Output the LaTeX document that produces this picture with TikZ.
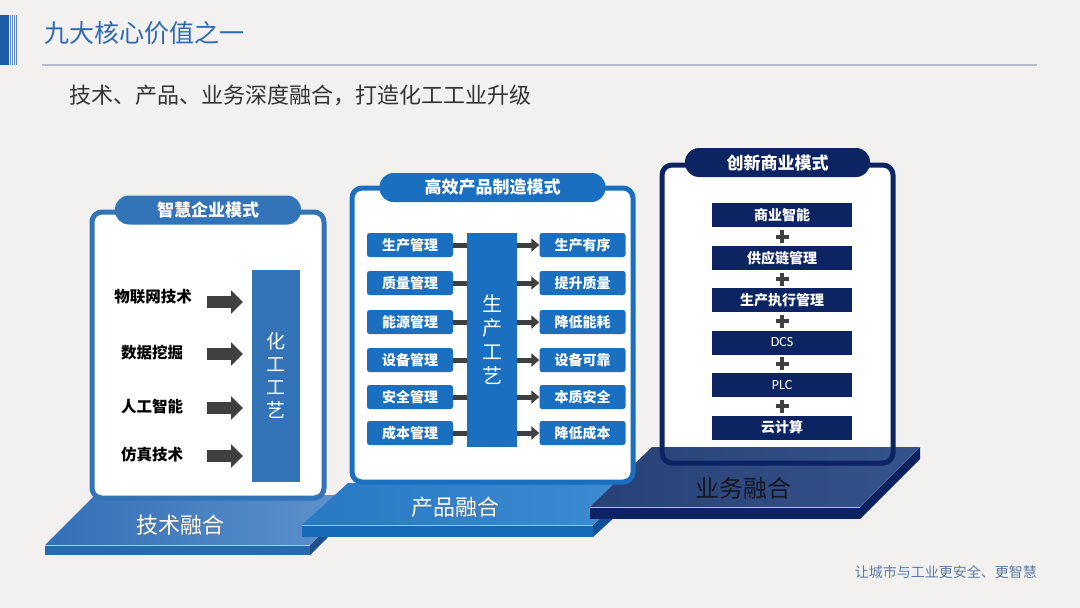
\documentclass[tikz,border=0pt]{standalone}
\usepackage{fontspec}
\setmainfont{Noto Sans CJK SC}
\newfontfamily\lat{Carlito}
\usetikzlibrary{arrows.meta,calc}
\definecolor{bgc}{HTML}{F2F1EF}
\definecolor{titleblue}{HTML}{2E6AB4}
\definecolor{hbar}{HTML}{1E5CAA}
\definecolor{hstripe}{HTML}{5E88C2}
\definecolor{hline}{HTML}{B4BCCB}
\definecolor{pa}{HTML}{3373B7}
\definecolor{pb}{HTML}{1A6FC0}
\definecolor{navy}{HTML}{0D2462}
\definecolor{darkarrow}{HTML}{404040}
\definecolor{footc}{HTML}{5A7BA8}
\definecolor{p1side}{RGB}{30,80,140}
\definecolor{p1l}{RGB}{52,112,181}
\definecolor{p1r}{RGB}{95,147,206}
\definecolor{p1f}{RGB}{42,105,174}
\definecolor{p2side}{RGB}{16,80,150}
\definecolor{p2l}{RGB}{40,120,196}
\definecolor{p2r}{RGB}{62,140,210}
\definecolor{p2f}{RGB}{22,106,184}
\definecolor{p3side}{RGB}{10,32,95}
\definecolor{p3l}{RGB}{40,66,118}
\definecolor{p3r}{RGB}{54,82,140}
\definecolor{p3f}{RGB}{12,36,100}
\definecolor{p3txt}{RGB}{20,22,32}
\begin{document}
\begin{tikzpicture}[x=1pt,y=-1pt,
  tabA/.style={fill=pa, rounded corners=14pt, minimum width=186pt, minimum height=29pt, inner sep=0pt, text=white, font=\fontsize{17}{17}\selectfont\bfseries},
  tabB/.style={tabA, fill=pb, minimum width=226pt},
  tabC/.style={tabA, fill=navy, minimum width=185pt},
  lblA/.style={font=\fontsize{15.5}{15.5}\selectfont\bfseries, text=black, inner sep=0pt},
  blk/.style={draw=darkarrow, line width=12pt, -{Triangle[length=12pt,width=23pt]}},
  mbox/.style={fill=pb, rounded corners=2.5pt, minimum width=86pt, minimum height=24pt, inner sep=0pt, text=white, font=\fontsize{14}{14}\selectfont\bfseries},
  conn/.style={draw=darkarrow, line width=5pt},
  conna/.style={conn, -{Triangle[length=8pt,width=13pt]}},
  nbox/.style={fill=navy, minimum width=140pt, minimum height=24pt, inner sep=0pt, text=white, font=\fontsize{14}{14}\selectfont\bfseries},
  plus/.style={draw=darkarrow, line width=4pt},
  vcol/.style={inner sep=0pt, text=white, align=center},
  platlbl/.style={text=white, inner sep=0pt, font=\fontsize{22}{22}\selectfont},
]
\useasboundingbox (0,0) rectangle (1080,608);
\fill[bgc] (0,0) rectangle (1080,608);

% header
\fill[hbar] (0,15) rectangle (9,65);
\foreach \a/\b in {9.6/10.6, 11.9/12.9, 14.1/15.1, 16.2/17.4} \fill[hstripe] (\a,15) rectangle (\b,65);
\node[anchor=west, inner sep=0pt, text=titleblue, font=\fontsize{25}{25}\selectfont] (title) at (44,33) {九大核心价值之一};
\draw[hline, line width=1.5pt] (42,65) -- (1037,65);
\node[anchor=west, inner sep=0pt, text=black!80, font=\fontsize{22}{22}\selectfont] (subtitle) at (69,95) {技术、产品、业务深度融合，打造化工工业升级};
\node[anchor=east, inner sep=0pt, text=footc, font=\fontsize{14}{14}\selectfont] (footer) at (1037,572) {让城市与工业更安全、更智慧};

% platform 1
\fill[p1side] (310,545) -- (360,495) -- (360,505) -- (310,555) -- cycle;
\shade[left color=p1l, right color=p1r] (45,545) -- (95,495) -- (360,495) -- (310,545) -- cycle;
\fill[p1f] (45,545) rectangle (310,555);
\draw[white!75!blue, line width=0.8pt] (45,545) -- (310,545);

% platform 2
\fill[p2side] (593,525) -- (639,483) -- (639,495) -- (593,537) -- cycle;
\shade[left color=p2l, right color=p2r] (302,525) -- (348,483) -- (639,483) -- (593,525) -- cycle;
\fill[p2f] (302,525) rectangle (593,537);
\draw[white!70!blue, line width=0.8pt] (302,525) -- (593,525);

% panel 3 box fill
\fill[white, rounded corners=10pt] (662,165) rectangle (893,463);

% platform 3
\fill[p3side] (860,507) -- (920,447) -- (920,459) -- (860,519) -- cycle;
\shade[left color=p3l, right color=p3r] (590,507) -- (652,447) -- (920,447) -- (860,507) -- cycle;
\fill[p3f] (590,507) rectangle (860,519);
\draw[white!70!navy, line width=0.8pt] (590,507) -- (860,507);

% panel 3 border and content
\draw[navy, line width=5pt, rounded corners=10pt] (662,165) rectangle (893,463);
\node[tabC] (tab3) at (777.5,162.5) {创新商业模式};
\node[nbox] (c1) at (782,215) {商业智能};
\node[nbox] (c2) at (782,258) {供应链管理};
\node[nbox] (c3) at (782,300) {生产执行管理};
\node[nbox, font=\lat\fontsize{14}{14}\selectfont] (c4) at (782,342.5) {DCS};
\node[nbox, font=\lat\fontsize{14}{14}\selectfont] (c5) at (782,385) {PLC};
\node[nbox] (c6) at (782,427.5) {云计算};
\foreach \i/\j in {1/2,2/3,3/4,4/5,5/6}{
  \coordinate (p\i) at ($(c\i.south)!0.5!(c\j.north)$);
  \draw[plus] ($(p\i)+(-6.5,0)$) -- ($(p\i)+(6.5,0)$);
  \draw[plus] ($(p\i)+(0,-6.5)$) -- ($(p\i)+(0,6.5)$);
}

% panel 1
\draw[pa, fill=white, line width=5pt, rounded corners=10pt] (92,212) rectangle (324,498);
\node[tabA] (tab1) at (208,210) {智慧企业模式};
\node[fill=pa, minimum width=48pt, minimum height=212pt, inner sep=0pt] (hg) at (276,376) {};
\node[vcol, font=\fontsize{19}{23}\selectfont] at (hg.center) {化\\工\\工\\艺};
\node[lblA] (l1) at (153,297) {物联网技术};
\node[lblA] (l2) at (152,353) {数据挖掘};
\node[lblA] (l3) at (152,407) {人工智能};
\node[lblA] (l4) at (152,455) {仿真技术};
\foreach \i/\y in {1/302,2/354,3/408,4/456}{
  \coordinate (s\i) at (207,\y);
  \coordinate (e\i) at (243,\y);
  \draw[blk] (s\i) -- (e\i);
}

% panel 2
\draw[pb, fill=white, line width=5pt, rounded corners=10pt] (352,188) rectangle (633,482);
\node[tabB] (tab2) at (492.5,187.5) {高效产品制造模式};
\node[fill=pb, minimum width=50pt, minimum height=214pt, inner sep=0pt] (sc) at (492,340) {};
\node[vcol, font=\fontsize{20}{24}\selectfont] at (sc.center) {生\\产\\工\\艺};
\foreach \i/\y/\a/\b in {1/245/生产管理/生产有序, 2/283/质量管理/提升质量, 3/322/能源管理/降低能耗, 4/360/设备管理/设备可靠, 5/397/安全管理/本质安全, 6/433/成本管理/降低成本}{
  \node[mbox] (m\i) at (410,\y) {\a};
  \node[mbox] (r\i) at (582.5,\y) {\b};
  \draw[conn] (m\i.east) -- (sc.west |- m\i.east);
  \draw[conna] (sc.east |- r\i.west) -- (r\i.west);
}

% platform labels
\node[platlbl, text=black!60, opacity=0.5] at (181,526) {技术融合};
\node[platlbl] (pl1) at (180,525) {技术融合};
\node[platlbl, text=black!60, opacity=0.5] at (456,508) {产品融合};
\node[platlbl] (pl2) at (455,507) {产品融合};
\node[platlbl, text=p3txt, font=\fontsize{24}{24}\selectfont] (pl3) at (743,488) {业务融合};
\end{tikzpicture}
\end{document}
